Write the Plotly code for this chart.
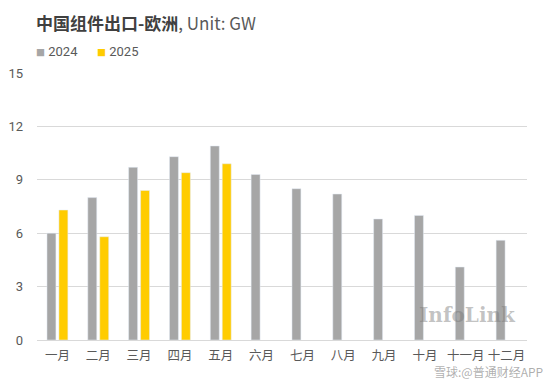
import plotly.graph_objects as go

months = ["一月", "二月", "三月", "四月", "五月", "六月", "七月", "八月", "九月", "十月", "十一月", "十二月"]
v2024 = [6.0, 8.0, 9.7, 10.3, 10.9, 9.3, 8.5, 8.2, 6.8, 7.0, 4.1, 5.6]
v2025 = [7.3, 5.8, 8.4, 9.4, 9.9, None, None, None, None, None, None, None]
y_ticks = [0, 3, 6, 9, 12, 15]
series_names = ["2024", "2025"]
series_colors = ["#A6A6A6", "#FFCC00"]

FONT = "Roboto, 'Noto Sans CJK SC', sans-serif"
CJK = "'Noto Sans CJK SC', sans-serif"
TXT = "#595959"

fig = go.Figure()
fig.add_trace(go.Bar(x=months, y=v2024, name=series_names[0], marker_color=series_colors[0]))
fig.add_trace(go.Bar(x=months, y=v2025, name=series_names[1], marker_color=series_colors[1]))

fig.update_layout(
    width=553, height=380,
    margin=dict(l=37, r=26, t=73, b=40, autoexpand=False),
    paper_bgcolor="white", plot_bgcolor="white",
    barmode="group", bargap=0.415, bargroupgap=0.25,
    font=dict(family=FONT, size=13, color=TXT),
    showlegend=False,
    xaxis=dict(showgrid=False, showline=True, linecolor="#D9D9D9", linewidth=1,
               ticks="", ticklabelstandoff=4,
               tickfont=dict(size=12.5, color=TXT, family=CJK)),
    yaxis=dict(range=[0, 15], tickvals=y_ticks, showgrid=True, gridcolor="#D9D9D9", gridwidth=1,
               zeroline=False, showline=False, ticks="", ticklabelstandoff=13,
               tickfont=dict(size=13, color=TXT)),
)

# title
fig.add_annotation(
    xref="paper", yref="paper", x=-0.006, y=1.191, xanchor="left", yanchor="middle",
    showarrow=False,
    text="<b>中国组件出口-欧洲</b><span style='color:#595959'>, Unit: GW</span>",
    font=dict(size=17, color="#404040", family=CJK),
)

# legend
for name, color, xpos in zip(series_names, series_colors, [-0.006, 0.118]):
    fig.add_annotation(
        xref="paper", yref="paper", x=xpos, y=1.079, xanchor="left", yanchor="middle",
        showarrow=False,
        text=f"<span style='color:{color};font-size:9px'>■</span> {name}",
        font=dict(size=13, color=TXT, family=FONT),
    )

# watermarks
fig.add_annotation(
    xref="paper", yref="paper", x=0.982, y=0.095, xanchor="right", yanchor="middle",
    showarrow=False, text="<b>InfoLink</b>",
    font=dict(size=20, color="rgba(120,120,120,0.45)", family="'DejaVu Serif', serif"),
)
fig.add_annotation(
    xref="paper", yref="paper", x=1.037, y=-0.118, xanchor="right", yanchor="middle",
    showarrow=False, text="雪球:@普通财经APP",
    font=dict(size=12, color="rgba(120,120,120,0.6)", family=CJK),
)

fig.write_html("out.html", config={"displayModeBar": False},
               post_script="document.body.style.margin='0';document.body.style.padding='0';")
